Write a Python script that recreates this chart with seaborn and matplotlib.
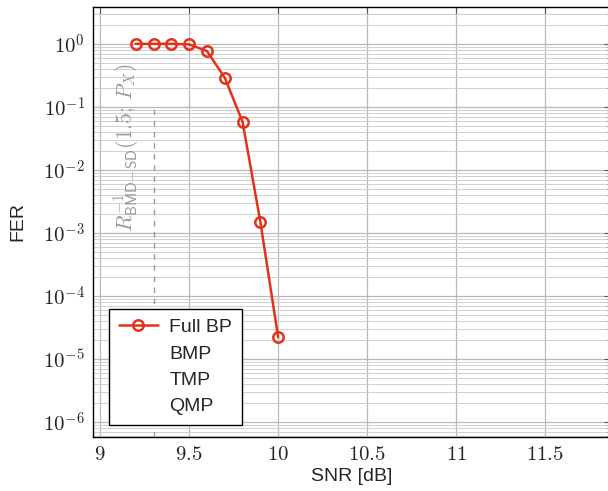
import numpy as np
import pandas as pd
import matplotlib
matplotlib.use("Agg")
import matplotlib.pyplot as plt
import seaborn as sns
from matplotlib.ticker import LogLocator, NullFormatter

snr = [9.2, 9.3, 9.4, 9.5, 9.6, 9.7, 9.8, 9.9, 10.0]
fer = [1.0, 1.0, 1.0, 0.98, 0.77, 0.29, 0.058, 0.0015, 2.2e-5]
series_name = "Full BP"
empty_series = ["BMP", "TMP", "QMP"]
xticks = [9, 9.5, 10, 10.5, 11, 11.5]
xtick_labels = ["9", "9.5", "10", "10.5", "11", "11.5"]
yticks = [1e0, 1e-1, 1e-2, 1e-3, 1e-4, 1e-5, 1e-6]
ytick_labels = [r"$10^{0}$", r"$10^{-1}$", r"$10^{-2}$", r"$10^{-3}$", r"$10^{-4}$", r"$10^{-5}$", r"$10^{-6}$"]
threshold_x = 9.3

sns.set_style("white")
plt.rcParams['font.family'] = ['Liberation Sans', 'DejaVu Sans']
plt.rcParams['mathtext.fontset'] = 'cm'

fig = plt.figure(figsize=(6.08, 4.91), dpi=100)
ax = fig.add_axes([0.153, 0.110, 0.852, 0.876])

df = pd.DataFrame({"SNR": snr, "FER": fer, "series": series_name})
red = "#e5301c"
sns.lineplot(data=df, x="SNR", y="FER", ax=ax, color=red, linewidth=1.8,
             marker="o", markersize=7.5, markerfacecolor="none",
             markeredgecolor=red, markeredgewidth=1.8, label=series_name, zorder=5)
for name in empty_series:
    ax.plot([], [], color="none", label=name)

ax.set_yscale("log")
ax.set_xlim(8.96, 11.87)
ax.set_ylim(10**-6.24, 10**0.587)

ax.set_xticks(xticks)
ax.set_xticklabels(["$" + t + "$" for t in xtick_labels], fontsize=15)
ax.set_yticks(yticks)
ax.set_yticklabels(ytick_labels, fontsize=15)
ax.yaxis.set_minor_locator(LogLocator(base=10, subs=np.arange(2, 10), numticks=20))
ax.yaxis.set_minor_formatter(NullFormatter())

ax.grid(True, which="major", axis="both", color="#b8b8b8", linewidth=0.9)
ax.grid(True, which="minor", axis="y", color="#d0d0d0", linewidth=0.7)
ax.set_axisbelow(True)

ax.tick_params(which="both", direction="in", top=True, right=True, color="#555555")
ax.tick_params(which="major", length=5, width=0.8, pad=6)
ax.tick_params(which="minor", length=3, width=0.6)
for s in ax.spines.values():
    s.set_color("black")
    s.set_linewidth(1.0)

ax.vlines(threshold_x, 10**-6.24, 1e-1, colors="#999999", linestyles=(0, (4, 4)), linewidth=1.0, zorder=3)
ax.text(9.145, 10**-1.65, r"$R^{-1}_{\mathsf{BMD\!-\!SD}}(1.5;\,P_X)$", rotation=90,
        color="#999999", fontsize=15.5, ha="center", va="center")

ax.set_xlabel("SNR [dB]", fontsize=14, labelpad=3)
ax.set_ylabel("FER", fontsize=14, labelpad=12)

leg = ax.legend(loc="lower left", bbox_to_anchor=(0.031, 0.028), borderaxespad=0, fontsize=14,
                frameon=True, fancybox=False, edgecolor="black", framealpha=1, handlelength=2.0,
                borderpad=0.5, labelspacing=0.45, handletextpad=0.6)
leg.get_frame().set_linewidth(1.0)

fig.savefig("out.png", dpi=100)
